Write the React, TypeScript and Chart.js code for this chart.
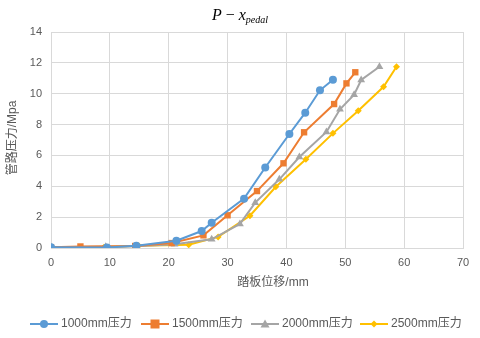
import React, { useEffect, useRef } from "react";
import { Chart, registerables } from "chart.js";

Chart.register(...registerables);

const seriesNames = ["1000mm压力", "1500mm压力", "2000mm压力", "2500mm压力"];
const seriesColors = ["#5B9BD5", "#ED7D31", "#A5A5A5", "#FFC000"];
const seriesPointStyles = ["circle", "rect", "triangle", "rectRot"];
const seriesPointRadius = [4, 4.5, 4.5, 3.5];

const x1000 = [0, 9.5, 14.5, 21.3, 25.6, 27.3, 32.8, 36.4, 40.5, 43.2, 45.7, 47.9];
const y1000 = [0.05, 0.03, 0.15, 0.47, 1.1, 1.64, 3.2, 5.22, 7.39, 8.77, 10.22, 10.9];

const x1500 = [0, 5, 14.3, 20.5, 25.9, 30, 35, 39.5, 43, 48.1, 50.2, 51.7];
const y1500 = [0.05, 0.1, 0.13, 0.32, 0.82, 2.12, 3.69, 5.49, 7.5, 9.33, 10.67, 11.39];

const x2000 = [0, 9.3, 14.5, 21, 27.3, 32.1, 34.7, 38.8, 42.2, 46.8, 49.1, 51.5, 52.7, 55.8];
const y2000 = [0.05, 0.08, 0.12, 0.25, 0.56, 1.56, 2.94, 4.45, 5.9, 7.52, 8.99, 9.94, 10.89, 11.75];

const x2500 = [0, 9, 14.9, 23.4, 28.4, 33.8, 38.2, 43.3, 47.9, 52.2, 56.5, 58.7];
const y2500 = [0.05, 0.05, 0.15, 0.21, 0.72, 2.09, 3.97, 5.75, 7.43, 8.9, 10.45, 11.75];

const xTicks = [0, 10, 20, 30, 40, 50, 60, 70];
const yTicks = [0, 2, 4, 6, 8, 10, 12, 14];

const allX = [x1000, x1500, x2000, x2500];
const allY = [y1000, y1500, y2000, y2500];

const TEXT = "#595959";
const FONT = "'Liberation Sans', 'Noto Sans CJK SC', sans-serif";

const textPlugin = {
  id: "customTexts",
  afterDraw(chart: any) {
    const ctx: CanvasRenderingContext2D = chart.ctx;
    const area = chart.chartArea;
    ctx.save();
    // Title: P − x_pedal
    const big = "italic 16px 'Liberation Serif', 'DejaVu Serif', serif";
    const norm = "16px 'Liberation Serif', 'DejaVu Serif', serif";
    const small = "italic 10px 'Liberation Serif', 'DejaVu Serif', serif";
    ctx.fillStyle = "#000";
    ctx.textBaseline = "alphabetic";
    ctx.textAlign = "left";
    const parts = [
      { t: "P", f: big, dy: 0 },
      { t: " \u2212 ", f: norm, dy: 0 },
      { t: "x", f: big, dy: 0 },
      { t: "pedal", f: small, dy: 3 },
    ];
    let total = 0;
    const widths = parts.map((p) => {
      ctx.font = p.f;
      const w = ctx.measureText(p.t).width;
      total += w;
      return w;
    });
    let cx = 240 - total / 2;
    parts.forEach((p, i) => {
      ctx.font = p.f;
      ctx.fillText(p.t, cx, 20 + p.dy);
      cx += widths[i];
    });

    // Axis titles
    ctx.fillStyle = TEXT;
    ctx.font = "12px " + FONT;
    ctx.textAlign = "center";
    ctx.textBaseline = "middle";
    ctx.fillText("踏板位移/mm", 273, 283);
    ctx.save();
    ctx.translate(13, (area.top + area.bottom) / 2 - 2);
    ctx.rotate(-Math.PI / 2);
    ctx.fillText("管路压力/Mpa", 0, 0);
    ctx.restore();

    // Legend
    const legendX = [30, 141, 251, 360];
    const ly = 324;
    ctx.font = "12px " + FONT;
    ctx.textAlign = "left";
    ctx.textBaseline = "middle";
    seriesNames.forEach((name, i) => {
      const x0 = legendX[i];
      ctx.strokeStyle = seriesColors[i];
      ctx.lineWidth = 2;
      ctx.beginPath();
      ctx.moveTo(x0, ly);
      ctx.lineTo(x0 + 28, ly);
      ctx.stroke();
      ctx.fillStyle = seriesColors[i];
      const mx = x0 + 14;
      const r = seriesPointRadius[i];
      ctx.beginPath();
      if (seriesPointStyles[i] === "circle") {
        ctx.arc(mx, ly, r, 0, Math.PI * 2);
      } else if (seriesPointStyles[i] === "rect") {
        ctx.rect(mx - r, ly - r, 2 * r, 2 * r);
      } else if (seriesPointStyles[i] === "triangle") {
        ctx.moveTo(mx, ly - r);
        ctx.lineTo(mx + r, ly + r * 0.8);
        ctx.lineTo(mx - r, ly + r * 0.8);
        ctx.closePath();
      } else {
        ctx.moveTo(mx, ly - r);
        ctx.lineTo(mx + r, ly);
        ctx.lineTo(mx, ly + r);
        ctx.lineTo(mx - r, ly);
        ctx.closePath();
      }
      ctx.fill();
      ctx.fillStyle = TEXT;
      ctx.fillText(name, x0 + 31, ly);
    });
    ctx.restore();
  },
};

export default function App() {
  const ref = useRef<HTMLCanvasElement | null>(null);
  useEffect(() => {
    document.body.style.margin = "0";
    if (!ref.current) return;
    const datasets = seriesNames.map((name, i) => ({
      label: name,
      data: allX[i].map((x, j) => ({ x, y: allY[i][j] })),
      showLine: true,
      borderColor: seriesColors[i],
      backgroundColor: seriesColors[i],
      borderWidth: 2,
      pointStyle: seriesPointStyles[i] as any,
      pointRadius: seriesPointRadius[i],
      pointBorderWidth: 0,
      tension: 0,
    }));
    const chart = new Chart(ref.current, {
      type: "scatter",
      data: { datasets },
      options: {
        animation: false,
        responsive: false,
        maintainAspectRatio: false,
        layout: { padding: { left: 0, right: 17, top: 32, bottom: 40 } },
        plugins: {
          legend: { display: false },
          title: { display: false },
          tooltip: { enabled: false },
        },
        scales: {
          x: {
            type: "linear",
            min: 0,
            max: 70,
            afterBuildTicks: (scale: any) => {
              scale.ticks = xTicks.map((v) => ({ value: v }));
            },
            afterFit: (scale: any) => {
              scale.height = 50;
            },
            grid: { color: "#d9d9d9", lineWidth: 1, drawTicks: false },
            border: { color: "#d9d9d9" },
            ticks: { color: TEXT, font: { size: 11, family: FONT }, padding: 8, maxRotation: 0 },
          },
          y: {
            type: "linear",
            min: 0,
            max: 14,
            afterBuildTicks: (scale: any) => {
              scale.ticks = yTicks.map((v) => ({ value: v }));
            },
            afterFit: (scale: any) => {
              scale.width = 51;
            },
            grid: { color: "#d9d9d9", lineWidth: 1, drawTicks: false },
            border: { color: "#d9d9d9" },
            ticks: { color: TEXT, font: { size: 11, family: FONT }, padding: 9 },
          },
        },
      },
      plugins: [textPlugin],
    });
    return () => chart.destroy();
  }, []);
  return (
    <div style={{ position: "absolute", left: 0, top: 0, width: 480, height: 338, background: "#fff" }}>
      <canvas ref={ref} width={480} height={338} style={{ width: 480, height: 338 }} />
    </div>
  );
}
